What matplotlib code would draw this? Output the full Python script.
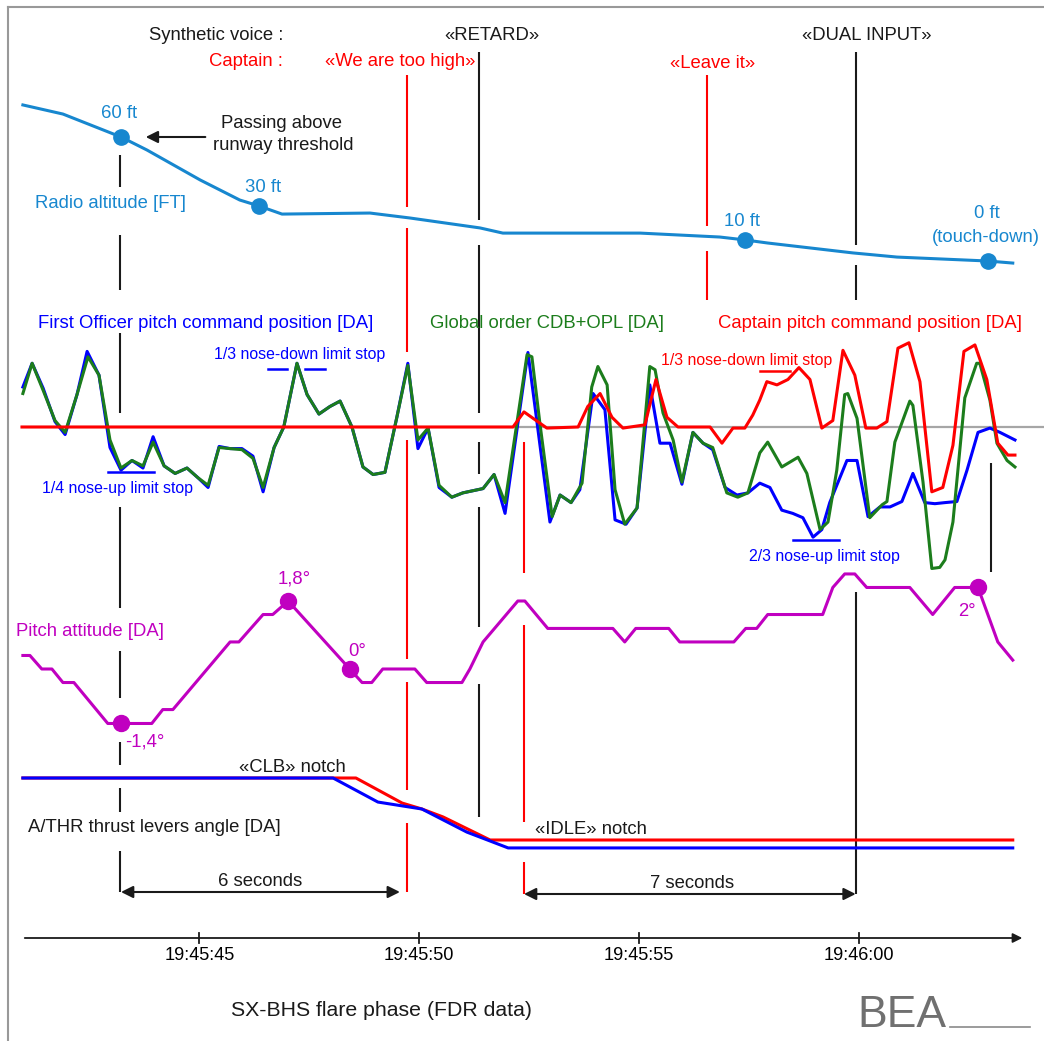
import numpy as np
import matplotlib
matplotlib.use('Agg')
import matplotlib.pyplot as plt

plt.rcParams['font.family'] = ['Liberation Sans', 'DejaVu Sans']

# --- data (time = seconds after 19:45:40) ---
ra_t = [0.99, 1.90, 3.22, 3.81, 5.02, 5.92, 6.36, 6.88, 8.88, 9.79, 11.38, 11.90,
        15.02, 16.83, 17.40, 17.92, 19.86, 20.86, 22.92, 23.49]
ra_ft = [75.5, 71.1, 60.0, 53.7, 39.2, 29.5, 26.6, 22.7, 23.2, 20.8, 16.0, 13.5,
         13.5, 11.6, 10.2, 8.7, 3.9, 1.9, 0.0, -1.0]
ra_mark_t = [3.22, 6.36, 17.40, 22.92]

fo_t = [0.99, 1.20, 1.45, 1.72, 1.95, 2.22, 2.45, 2.72, 2.97, 3.22, 3.47, 3.72, 3.95,
        4.20, 4.45, 4.72, 4.97, 5.20, 5.45, 5.70, 5.97, 6.22, 6.45, 6.70, 6.92, 7.22,
        7.45, 7.72, 7.97, 8.20, 8.47, 8.72, 8.95, 9.22, 9.49, 9.74, 9.97, 10.20, 10.45,
        10.74, 10.99, 11.22, 11.45, 11.70, 11.95, 12.47, 12.97, 13.20, 13.45, 13.65,
        13.95, 14.22, 14.45, 14.70, 14.95, 15.24, 15.47, 15.70, 15.97, 16.22, 16.45,
        16.67, 16.95, 17.22, 17.47, 17.74, 17.97, 18.24, 18.49, 18.72, 18.95, 19.15,
        19.33, 19.72, 19.95, 20.20, 20.47, 20.70, 20.97, 21.22, 21.49, 21.72, 21.95,
        22.22, 22.45, 22.70, 22.97, 23.20, 23.54]
fo_cmd = [3.7, 5.9, 3.6, 0.5, -0.7, 3.0, 7.0, 4.8, -1.9, -4.0, -3.1, -3.8, -0.9,
          -3.6, -4.3, -3.8, -4.7, -5.6, -1.8, -2.0, -2.0, -2.7, -6.0, -1.9, 0.0, 5.9,
          3.0, 1.2, 1.9, 2.4, 0.0, -3.7, -4.4, -4.2, 0.9, 5.9, -2.0, -0.1, -5.6,
          -6.5, -6.1, -5.9, -5.7, -4.4, -8.0, 6.9, -8.8, -6.3, -7.0, -5.8,
          3.1, 1.6, -8.6, -9.0, -7.5, 3.9, -1.5, -1.5, -5.3, -0.5, -1.5,
          -2.1, -5.6, -6.3, -6.1, -5.2, -5.6, -7.7, -8.0, -8.4, -10.2, -9.5,
          -7.0, -3.1, -3.1, -8.3, -7.4, -7.4, -6.9, -4.3, -7.0, -7.1, -7.0,
          -6.9, -4.0, -0.5, -0.1, -0.5, -1.2]

glob_t = [0.99, 1.20, 1.45, 1.72, 1.95, 2.22, 2.47, 2.72, 2.97, 3.22, 3.47, 3.72, 3.95,
          4.20, 4.45, 4.72, 4.97, 5.20, 5.45, 5.70, 5.97, 6.22, 6.45, 6.70, 6.92, 7.22,
          7.45, 7.72, 7.97, 8.20, 8.47, 8.72, 8.95, 9.22, 9.49, 9.74, 9.97, 10.20, 10.45,
          10.74, 10.99, 11.22, 11.45, 11.70, 11.95, 12.45, 12.56, 12.74, 13.02, 13.20,
          13.45, 13.70, 13.92, 14.06, 14.27, 14.45, 14.67, 14.95, 15.24, 15.36, 15.54,
          15.77, 15.97, 16.22, 16.45, 16.67, 16.99, 17.24, 17.47, 17.74, 17.92, 18.24,
          18.61, 18.81, 19.11, 19.29, 19.49, 19.67, 19.74, 19.95, 20.24, 20.52, 20.63,
          20.81, 21.15, 21.22, 21.45, 21.65, 21.83, 21.95, 22.13, 22.40, 22.67, 22.74,
          22.97, 23.13, 23.36, 23.54]
glob_cmd = [3.1, 5.9, 3.4, 0.6, -0.5, 3.0, 6.5, 4.8, -1.2, -3.8, -3.1, -3.6, -1.4,
            -3.6, -4.3, -3.8, -4.7, -5.4, -1.9, -2.0, -2.1, -2.9, -5.6, -1.9, 0.0, 5.9,
            3.0, 1.2, 1.9, 2.4, 0.0, -3.7, -4.4, -4.2, 0.9, 5.7, -1.2, -0.1, -5.4,
            -6.5, -6.1, -5.9, -5.7, -4.4, -7.0, 6.7, 6.5, 0.4, -8.3, -6.3,
            -7.0, -5.2, 3.7, 5.6, 3.9, -5.8, -9.0, -7.5, 5.6, 5.3, 1.3,
            -1.2, -5.1, -0.5, -1.5, -1.9, -6.1, -6.5, -6.1, -2.4, -1.4, -3.7,
            -2.8, -4.3, -9.5, -8.8, -4.0, 3.0, 3.1, 0.8, -8.4, -7.2, -6.9,
            -1.4, 2.4, 2.0, -5.1, -13.1, -13.0, -12.3, -8.8, 2.7, 5.9, 5.9,
            2.5, -1.5, -3.1, -3.7]

cdb_t = [0.97, 12.13, 12.38, 12.90, 13.61, 13.83, 14.11, 14.38, 14.63, 15.13, 15.38,
         15.63, 15.88, 16.61, 16.88, 17.13, 17.40, 17.58, 17.74, 17.90, 18.13, 18.38,
         18.63, 18.88, 19.15, 19.40, 19.63, 19.90, 20.15, 20.40, 20.63, 20.88, 21.13,
         21.38, 21.65, 21.90, 22.13, 22.38, 22.63, 22.90, 23.15, 23.38, 23.54]
cdb_cmd = [0.0, 0.0, 1.4, -0.1, 0.0, 1.9, 3.1, 0.9, -0.1, 0.2, 4.4,
           0.9, 0.0, 0.0, -1.5, -0.1, -0.1, 1.1, 2.5, 4.2, 3.9, 4.4,
           5.5, 4.4, -0.1, 0.6, 7.1, 4.8, -0.1, -0.1, 0.5, 7.3, 7.8,
           4.2, -6.0, -5.6, -1.7, 7.0, 7.6, 4.4, -1.5, -2.6, -2.6]

pitch_t = [0.99, 1.15, 1.42, 1.65, 1.90, 2.15, 2.92, 3.22, 3.92, 4.17, 4.40, 5.70,
           5.90, 6.45, 6.67, 7.02, 8.42, 8.70, 8.92, 9.17, 9.90, 10.17, 10.97, 11.15,
           11.45, 12.24, 12.40, 12.92, 14.40, 14.67, 14.92, 15.67, 15.92, 17.15, 17.42,
           17.67, 17.92, 19.17, 19.40, 19.67, 19.90, 20.17, 21.15, 21.67, 22.17, 22.70,
           23.15, 23.49]
pitch_deg = [0.35, 0.35, 0.0, 0.0, -0.35, -0.35, -1.41, -1.41, -1.41, -1.05, -1.05, 0.70,
             0.70, 1.41, 1.41, 1.76, 0.0, -0.35, -0.35, 0.0, 0.0, -0.35, -0.35, 0.0,
             0.70, 1.76, 1.76, 1.05, 1.05, 0.70, 1.05, 1.05, 0.70, 0.70, 1.05,
             1.05, 1.41, 1.41, 2.11, 2.46, 2.46, 2.11, 2.11, 1.41, 2.11, 2.11,
             0.70, 0.23]
pitch_mark_t = [3.22, 7.02, 8.42, 22.70]

tla1_t = [0.99, 8.56, 9.61, 10.06, 10.54, 11.61, 23.49]
tla1 = [25, 25, 14.9, 12.5, 9.3, 0, 0]
tla2_t = [0.99, 8.04, 9.06, 10.06, 11.08, 12.02, 23.49]
tla2 = [25, 25, 15.3, 12.5, 3.2, -3.2, -3.2]

tick_t = [5, 10, 15, 20]

C_RA = '#1787cf'
C_MAG = '#c000c0'
C_GRN = '#1c7d1c'
C_RED = '#ff0000'
C_BLU = '#0000ff'
C_BLK = '#1a1a1a'

W, H = 1044, 1041
T0, T1 = 0.47, 24.20

fig = plt.figure(figsize=(W / 100, H / 100), dpi=100)
ax = fig.add_axes([0, 0, 1, 1])
ax.set_xlim(T0, T1)
ax.set_ylim(H, 0)
ax.axis('off')


def overlay(zero_px, px_per_unit):
    # transparent axes on the full figure, value 0 sits at zero_px
    a = fig.add_axes([0, 0, 1, 1])
    a.set_xlim(T0, T1)
    a.set_ylim((zero_px - H) / px_per_unit, zero_px / px_per_unit)
    a.axis('off')
    a.patch.set_alpha(0)
    return a


# frame
ax.plot([0.65, 0.65], [H, 7], color='#999999', lw=1.5)
ax.plot([0.65, T1], [7, 7], color='#999999', lw=1.5)

# event lines
events = [
    (3.20, C_BLK, [(155, 187), (235, 290), (333, 413), (507, 608), (651, 698), (742, 765), (788, 812), (851, 892)]),
    (9.72, C_RED, [(75, 207), (228, 352), (440, 659), (682, 790), (823, 892)]),
    (11.36, C_BLK, [(52, 220), (245, 413), (442, 474), (507, 627), (684, 817)]),
    (12.38, C_RED, [(442, 573), (625, 822), (862, 894)]),
    (16.54, C_RED, [(75, 226), (251, 300)]),
    (19.92, C_BLK, [(52, 245), (265, 300), (592, 894)]),
    (22.99, C_BLK, [(463, 572)]),
]
for t, c, segs in events:
    for y0, y1 in segs:
        ax.plot([t, t], [y0, y1], color=c, lw=1.5, solid_capstyle='butt')

# limit stop marks
for t0, t1, y, c in [(6.56, 6.99, 369, C_BLU), (7.40, 7.86, 369, C_BLU), (2.92, 3.97, 472, C_BLU),
                     (17.74, 18.42, 371, C_RED), (18.49, 19.54, 540, C_BLU)]:
    ax.plot([t0, t1], [y, y], color=c, lw=1.8)

# radio altitude
a_ra = overlay(261, 2.067)
a_ra.plot(ra_t, ra_ft, color=C_RA, lw=2.2)
a_ra.plot(ra_mark_t, np.interp(ra_mark_t, ra_t, ra_ft), 'o', color=C_RA, ms=11)

# pitch commands
a_cmd = overlay(427, 10.8)
a_cmd.axhline(0, color='#a6a6a6', lw=1.6, xmin=(0.97 - T0) / (T1 - T0))
a_cmd.plot(fo_t, fo_cmd, color=C_BLU, lw=2.2)
a_cmd.plot(glob_t, glob_cmd, color=C_GRN, lw=2.2)
a_cmd.plot(cdb_t, cdb_cmd, color=C_RED, lw=2.2)

# pitch attitude
a_p = overlay(669, 38.64)
a_p.plot(pitch_t, pitch_deg, color=C_MAG, lw=2.2)
a_p.plot(pitch_mark_t, np.interp(pitch_mark_t, pitch_t, pitch_deg), 'o', color=C_MAG, ms=11.5)

# thrust levers
a_tla = overlay(840, 2.48)
a_tla.plot(tla1_t, tla1, color=C_RED, lw=2.2)
a_tla.plot(tla2_t, tla2, color=C_BLU, lw=2.2)

# time axis
ax.annotate('', xy=(23.77, 938), xytext=(0.97, 938),
            arrowprops=dict(arrowstyle='-|>', color=C_BLK, lw=1.3, mutation_scale=14))
for t in tick_t:
    ax.plot([t, t], [933, 943], color=C_BLK, lw=1.3)
    s = 40 + t
    ax.text(t, 955, '19:%02d:%02d' % (45 + s // 60, s % 60), ha='center', va='center', fontsize=13.1)

# arrows
ax.annotate('', xy=(3.72, 137), xytext=(5.20, 137),
            arrowprops=dict(arrowstyle='-|>', color=C_BLK, lw=1.5, mutation_scale=18))
ax.annotate('', xy=(3.22, 892), xytext=(9.56, 892),
            arrowprops=dict(arrowstyle='<|-|>', color=C_BLK, lw=1.5, mutation_scale=18, shrinkA=0, shrinkB=0))
ax.annotate('', xy=(12.38, 894), xytext=(19.92, 894),
            arrowprops=dict(arrowstyle='<|-|>', color=C_BLK, lw=1.5, mutation_scale=18, shrinkA=0, shrinkB=0))

FS = 13.3
SM = 11.4
texts = [
    (6.90, 33, 'Synthetic voice :', C_BLK, FS, 'right'),
    (6.90, 60, 'Captain :', C_RED, FS, 'right'),
    (9.56, 60, '«We are too high»', C_RED, FS, 'center'),
    (11.65, 34, '«RETARD»', C_BLK, FS, 'center'),
    (16.67, 62, '«Leave it»', C_RED, FS, 'center'),
    (20.17, 34, '«DUAL INPUT»', C_BLK, FS, 'center'),
    (3.17, 112, '60 ft', C_RA, FS, 'center'),
    (6.86, 122, 'Passing above', C_BLK, FS, 'center'),
    (6.90, 144, 'runway threshold', C_BLK, FS, 'center'),
    (6.45, 185, '30 ft', C_RA, FS, 'center'),
    (2.99, 201, 'Radio altitude [FT]', C_RA, FS, 'center'),
    (17.33, 220, '10 ft', C_RA, FS, 'center'),
    (22.90, 212, '0 ft', C_RA, FS, 'center'),
    (22.88, 235, '(touch-down)', C_RA, FS, 'center'),
    (5.15, 321, 'First Officer pitch command position [DA]', C_BLU, FS, 'center'),
    (12.90, 321, 'Global order CDB+OPL [DA]', C_GRN, FS, 'center'),
    (20.24, 321, 'Captain pitch command position [DA]', C_RED, FS, 'center'),
    (7.27, 353, '1/3 nose-down limit stop', C_BLU, SM, 'center'),
    (3.13, 487, '1/4 nose-up limit stop', C_BLU, SM, 'center'),
    (17.45, 358, '1/3 nose-down limit stop', C_RED, SM, 'center'),
    (19.20, 554, '2/3 nose-up limit stop', C_BLU, SM, 'center'),
    (7.15, 577, '1,8°', C_MAG, FS, 'center'),
    (8.58, 649, '0°', C_MAG, FS, 'center'),
    (3.77, 740, '-1,4°', C_MAG, FS, 'center'),
    (22.45, 609, '2°', C_MAG, FS, 'center'),
    (2.52, 630, 'Pitch attitude [DA]', C_MAG, FS, 'center'),
    (7.11, 766, '«CLB» notch', C_BLK, FS, 'center'),
    (3.97, 826, 'A/THR thrust levers angle [DA]', C_BLK, FS, 'center'),
    (13.90, 828, '«IDLE» notch', C_BLK, FS, 'center'),
    (6.38, 879, '6 seconds', C_BLK, FS, 'center'),
    (16.20, 882, '7 seconds', C_BLK, FS, 'center'),
    (9.15, 1009, 'SX-BHS flare phase (FDR data)', C_BLK, 15.3, 'center'),
]
for x, y, s, c, fs, ha in texts:
    ax.text(x, y + 2, s, color=c, fontsize=fs, ha=ha, va='center')

# BEA logo
ax.text(19.95, 1027, 'BEA', color='#707070', fontsize=32, ha='left', va='baseline')
ax.plot([22.06, 23.88], [1027, 1027], color='#8a8a8a', lw=1.2)

fig.savefig('out.png', dpi=100)
